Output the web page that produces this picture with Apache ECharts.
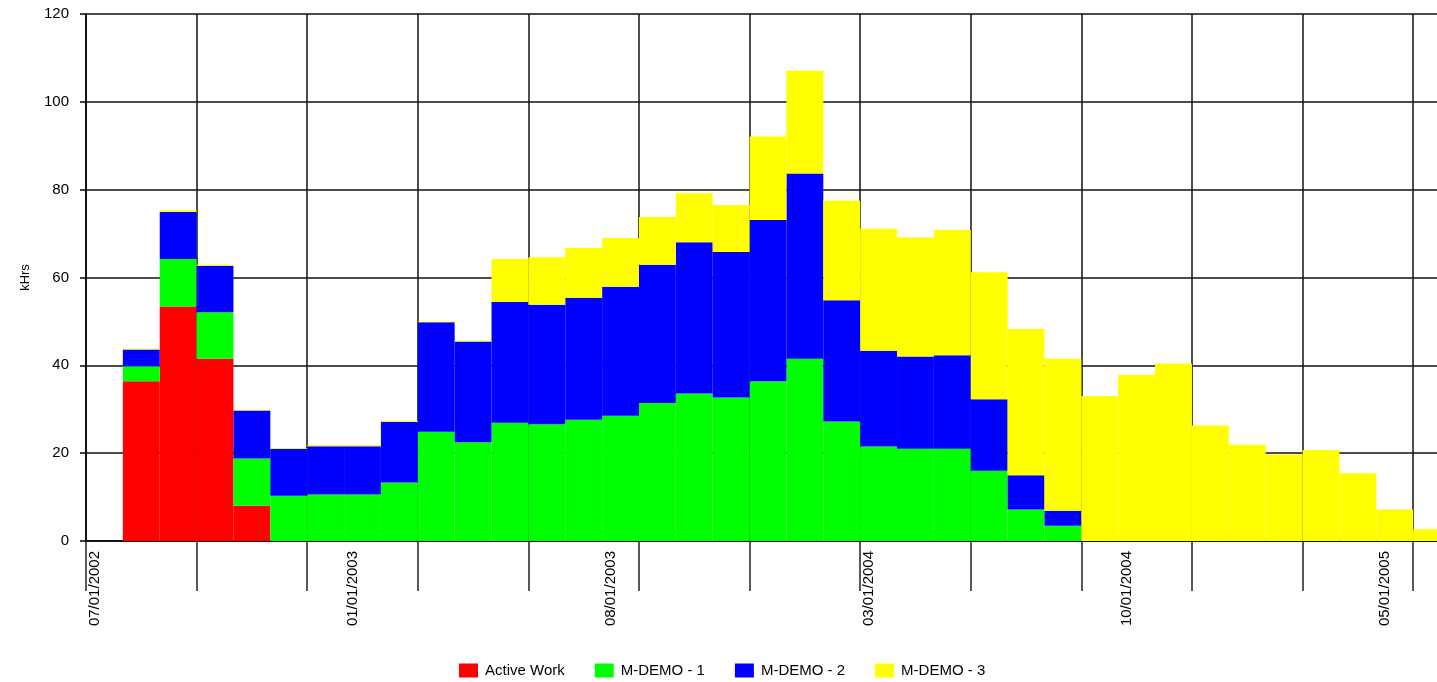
<!DOCTYPE html>
<html>
<head>
<meta charset="utf-8">
<script src="https://cdn.jsdelivr.net/npm/echarts@6/dist/echarts.min.js"></script>
<style>
html,body{margin:0;padding:0;background:#fff;overflow:hidden;}
#chart{width:1437px;height:682px;}
</style>
</head>
<body>
<div id="chart"></div>
<script>
// Monthly periods (index 0 is empty)
const categories = [
  '06/2002','07/2002','08/2002','09/2002','10/2002','11/2002','12/2002',
  '01/2003','02/2003','03/2003','04/2003','05/2003','06/2003','07/2003',
  '08/2003','09/2003','10/2003','11/2003','12/2003','01/2004','02/2004',
  '03/2004','04/2004','05/2004','06/2004','07/2004','08/2004','09/2004',
  '10/2004','11/2004','12/2004','01/2005','02/2005','03/2005','04/2005',
  '05/2005','06/2005'
];
// Tick labels shown on every 7th category
const tickLabels = ['07/01/2002','01/01/2003','08/01/2003','03/01/2004','10/01/2004','05/01/2005'];
const yTicks = [0, 20, 40, 60, 80, 100, 120];

const seriesNames = ['Active Work', 'M-DEMO - 1', 'M-DEMO - 2', 'M-DEMO - 3'];
const activeWork = [0, 36.4, 53.4, 41.5, 8.0, 0, 0, 0, 0, 0, 0, 0, 0, 0, 0, 0, 0, 0, 0, 0, 0, 0, 0, 0, 0, 0, 0, 0, 0, 0, 0, 0, 0, 0, 0, 0, 0];
const mDemo1 = [0, 3.4, 10.8, 10.6, 10.8, 10.3, 10.6, 10.6, 13.3, 24.9, 22.5, 26.9, 26.6, 27.6, 28.5, 31.4, 33.6, 32.7, 36.4, 41.5, 27.2, 21.5, 21.0, 21.0, 16.0, 7.2, 3.5, 0, 0, 0, 0, 0, 0, 0, 0, 0, 0];
const mDemo2 = [0, 3.8, 10.7, 10.6, 10.9, 10.7, 11.0, 11.0, 13.8, 24.9, 22.9, 27.5, 27.2, 27.8, 29.4, 31.5, 34.4, 33.1, 36.7, 42.2, 27.6, 21.8, 21.0, 21.3, 16.3, 7.8, 3.4, 0, 0, 0, 0, 0, 0, 0, 0, 0, 0];
const mDemo3 = [0, 0.2, 0.4, 0.2, 0.2, 0.2, 0.2, 0.2, 0.2, 0.2, 0.2, 9.8, 10.8, 11.3, 11.1, 10.9, 11.2, 10.7, 19.0, 23.4, 22.7, 27.8, 27.1, 28.5, 28.9, 33.3, 34.6, 33.0, 37.8, 40.4, 26.3, 21.9, 19.7, 20.7, 15.4, 7.2, 2.7];
const colors = ['#FF0000', '#00FF00', '#0000FF', '#FFFF00'];

const FONT = '"Liberation Sans", Arial, sans-serif';
const chart = echarts.init(document.getElementById('chart'), null, {renderer: 'canvas'});
const seriesData = [activeWork, mDemo1, mDemo2, mDemo3];

chart.setOption({
  animation: false,
  backgroundColor: '#ffffff',
  color: colors,
  grid: {left: 86, top: 14, height: 527, width: 1364, containLabel: false, outerBoundsMode: 'none'},
  legend: {
    top: 658, left: 454,
    itemWidth: 19, itemHeight: 14, itemGap: 30,
    icon: 'rect',
    textStyle: {fontFamily: FONT, fontSize: 15, color: '#000', width: 100, padding: [0, 0, 0, 2]},
    data: seriesNames
  },
  xAxis: {
    type: 'category',
    data: categories,
    boundaryGap: true,
    axisLine: {lineStyle: {color: '#000', width: 1.5}},
    axisTick: {show: true, interval: 2, length: 50, lineStyle: {color: '#222', width: 1.5}},
    splitLine: {show: true, interval: 2, lineStyle: {color: '#111', width: 1.5}},
    axisLabel: {
      interval: 6, rotate: 90, margin: 10,
      fontFamily: FONT, fontSize: 15, color: '#000',
      verticalAlign: 'bottom', lineHeight: 20,
      formatter: function (v, i) { return tickLabels[Math.round(i / 7)] || ''; }
    }
  },
  yAxis: {
    type: 'value',
    min: 0, max: 120, interval: 20,
    name: 'kHrs', nameLocation: 'middle', nameGap: 54,
    nameTextStyle: {fontFamily: FONT, fontSize: 13, color: '#000'},
    axisLine: {show: true, lineStyle: {color: '#000', width: 1.5}},
    axisTick: {show: true, length: 6, lineStyle: {color: '#000', width: 1.5}},
    splitLine: {show: true, lineStyle: {color: '#111', width: 1.5}},
    axisLabel: {
      margin: 17, fontFamily: FONT, fontSize: 15, color: '#000',
      formatter: function (v) { return yTicks.indexOf(v) >= 0 ? String(v) : ''; }
    }
  },
  series: seriesNames.map(function (name, k) {
    return {
      name: name, type: 'bar', stack: 'total',
      barCategoryGap: '0%', barGap: '0%',
      data: seriesData[k],
      itemStyle: {color: colors[k]}
    };
  })
});
</script>
</body>
</html>
